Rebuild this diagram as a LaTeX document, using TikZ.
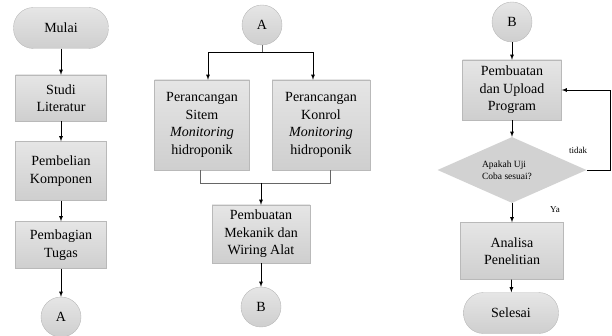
\documentclass[tikz,border=0pt]{standalone}
\usepackage{fontspec}
\setmainfont{Liberation Serif}
\usetikzlibrary{shapes.geometric}
\begin{document}
\begin{tikzpicture}[x=1pt,y=-1pt]
\tikzstyle{proses} = [rectangle, draw=gray!55, top color=gray!20, bottom color=gray!38, align=center, font=\fontsize{14}{17.5}\selectfont, inner sep=2pt]
\tikzstyle{terminal} = [rectangle, rounded corners=20pt, draw=gray!55, top color=gray!20, bottom color=gray!38, font=\fontsize{14}{17}\selectfont, minimum width=95pt, minimum height=41pt]
\tikzstyle{konektor} = [circle, draw=gray!55, top color=gray!20, bottom color=gray!38, minimum size=40pt, inner sep=0pt, font=\fontsize{14}{17}\selectfont]
\tikzstyle{keputusan} = [diamond, aspect=2.25, fill=gray!35, minimum width=149pt, minimum height=66pt, inner sep=0pt, align=left, font=\fontsize{9.5}{12}\selectfont]
\tikzstyle{edge} = [->, >=latex, black, line width=0.8pt]
\tikzstyle{garis} = [black!60, line width=0.7pt]
\useasboundingbox (0,0) rectangle (612,336);

%kolom kiri
\node[terminal] (mulai) at (61,28) {Mulai};
\foreach \name/\y/\h/\teks in {studi/98/46/{Studi\\Literatur}, beli/171/59/{Pembelian\\Komponen}, bagi/245/47/{Pembagian\\Tugas}}
	\node[proses, minimum width=91pt, minimum height=\h pt] (\name) at (61,\y) {\teks};
\node[konektor] (A1) at (61,317) {A};

\foreach \from/\to in {mulai/studi, studi/beli, beli/bagi, bagi/A1}
	\draw[edge] (\from) -- (\to);

%kolom tengah
\node[konektor] (A2) at (262,25) {A};
\node[proses, minimum width=95pt, minimum height=90pt] (sitem) at (202,125) {Perancangan\\Sitem\\\textit{Monitoring}\\hidroponik};
\node[proses, minimum width=98pt, minimum height=90pt] (konrol) at (321,125) {Perancangan\\Konrol\\\textit{Monitoring}\\hidroponik};
\node[proses, minimum width=98pt, minimum height=58pt] (mekanik) at (261,234) {Pembuatan\\Mekanik dan\\Wiring Alat};
\node[konektor] (B1) at (261,307) {B};

\draw[garis] (A2.south) -- ++(0,7) coordinate (cabang);
\draw[edge] (cabang) -| ([xshift=6pt]sitem.north);
\draw[edge] (cabang) -| ([xshift=-8pt]konrol.north);
\draw[garis] ([xshift=-2pt]sitem.south) |- (261,183) coordinate (gabung);
\draw[garis] ([xshift=9pt]konrol.south) |- (gabung);
\draw[edge] (gabung) -- (mekanik);
\draw[edge] (mekanik) -- (B1);

%kolom kanan
\node[konektor] (B2) at (512,22) {B};
\node[proses, minimum width=99pt, minimum height=60pt] (upload) at (512,90) {Pembuatan\\dan Upload\\Program};
\node[keputusan] (uji) at (512,170) {\hspace*{-10pt}Apakah Uji\\\hspace*{-10pt}Coba sesuai?};
\node[proses, minimum width=103pt, minimum height=57pt] (analisa) at (512,251) {Analisa\\Penelitian};
\node[terminal] (selesai) at (511,313) {Selesai};

\foreach \from/\to in {B2/upload, upload/uji, uji/analisa, analisa/selesai}
	\draw[edge] (\from) -- (\to);
\draw[edge] (uji.east) -- ++(24,0) coordinate (balik) |- (upload.east);

\node[font=\fontsize{9}{11}\selectfont] (tidak) at (578,150) {tidak};
\node[font=\fontsize{9}{11}\selectfont] (ya) at (555,210) {Ya};
\end{tikzpicture}
\end{document}
